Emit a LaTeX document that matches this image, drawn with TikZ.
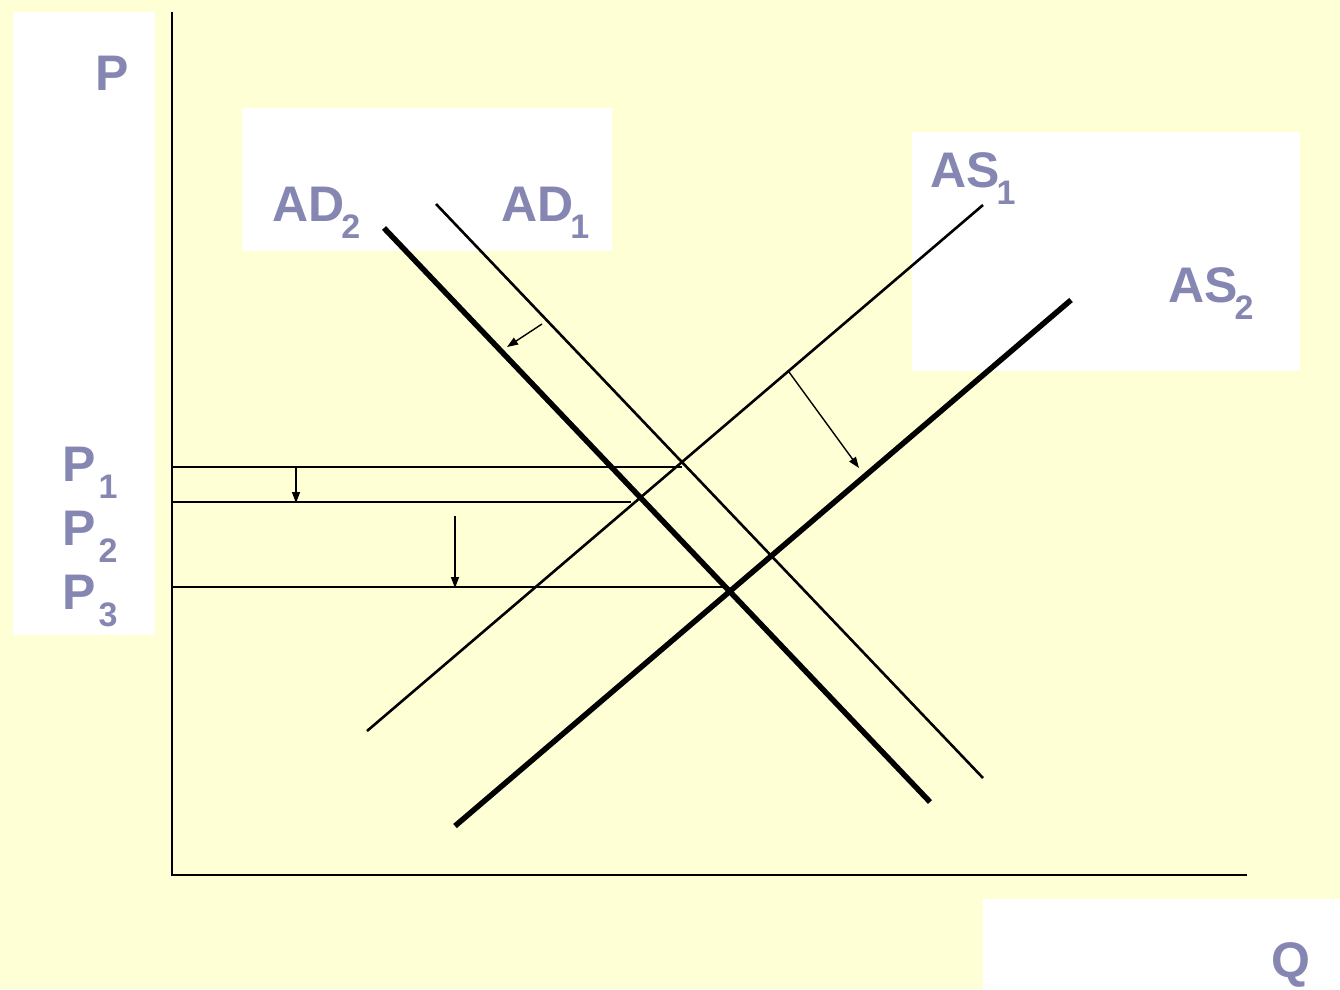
\documentclass[tikz,border=0pt]{standalone}
\usepackage{fontspec}
\setmainfont{Liberation Sans}
\usetikzlibrary{arrows.meta}
\definecolor{bgyel}{RGB}{255,255,213}
\definecolor{lbl}{RGB}{134,134,178}
\newcommand{\biglbl}[3][-3pt]{{\fontsize{50}{60}\selectfont #2}\kern#1\raisebox{-17pt}{\fontsize{34}{40}\selectfont #3}}
\tikzset{
  lab/.style={anchor=base west, inner sep=0pt, text=lbl, font=\bfseries},
  whitebox/.style={fill=white, draw=none},
  axisline/.style={line width=2pt, black},
  thinc/.style={line width=2.6pt, black},
  thickc/.style={line width=5.5pt, black},
  hline/.style={line width=1.8pt, black},
  shiftarrow/.style={line width=1.4pt, black, -{Triangle[length=11pt,width=8pt]}}
}
\begin{document}
\begin{tikzpicture}[x=1pt,y=-1pt]
\useasboundingbox (0,0) rectangle (1340,989);
\fill[bgyel] (0,0) rectangle (1340,989);
% white label boxes
\fill[whitebox] (13,12) rectangle (155,635);
\fill[whitebox] (242,108) rectangle (612,251);
\fill[whitebox] (912,132) rectangle (1300,371);
\fill[whitebox] (983,899) rectangle (1340,989);
% axes
\coordinate (ytop) at (172,12);
\coordinate (orig) at (172,875);
\coordinate (xend) at (1247,875);
\draw[axisline] (ytop) -- (orig) -- (xend);
% curves
\coordinate (ad1a) at (436,204); \coordinate (ad1b) at (983,778);
\coordinate (ad2a) at (384,228); \coordinate (ad2b) at (930,802);
\coordinate (as1a) at (367,731); \coordinate (as1b) at (983,205);
\coordinate (as2a) at (455,826); \coordinate (as2b) at (1071,300);
\draw[thinc] (ad1a) -- (ad1b);
\draw[thickc] (ad2a) -- (ad2b);
\draw[thinc] (as1a) -- (as1b);
\draw[thickc] (as2a) -- (as2b);
% price lines
\coordinate (p1a) at (172,467); \coordinate (p1b) at (682,467);
\coordinate (p2a) at (172,502); \coordinate (p2b) at (631,502);
\coordinate (p3a) at (172,587); \coordinate (p3b) at (724,587);
\draw[hline] (p1a) -- (p1b);
\draw[hline] (p2a) -- (p2b);
\draw[hline] (p3a) -- (p3b);
% shift arrows
\coordinate (a1s) at (296,467); \coordinate (a1e) at (296,503);
\coordinate (a2s) at (455,516); \coordinate (a2e) at (455,588);
\coordinate (a3s) at (542,324); \coordinate (a3e) at (507,347);
\coordinate (a4s) at (789,372); \coordinate (a4e) at (859,468);
\draw[shiftarrow] (a1s) -- (a1e);
\draw[shiftarrow] (a2s) -- (a2e);
\draw[shiftarrow] (a3s) -- (a3e);
\draw[shiftarrow] (a4s) -- (a4e);
% labels
\node[lab] (lP) at (95,90) {\fontsize{50}{60}\selectfont P};
\node[lab] (lAD2) at (272,221) {\biglbl{AD}{2}};
\node[lab] (lAD1) at (501,221) {\biglbl{AD}{1}};
\node[lab] (lAS1) at (930,187) {\biglbl{AS}{1}};
\node[lab] (lAS2) at (1168,302) {\biglbl{AS}{2}};
\node[lab] (lP1) at (62,481) {\biglbl[3pt]{P}{1}};
\node[lab] (lP2) at (62,545) {\biglbl[3pt]{P}{2}};
\node[lab] (lP3) at (62,609) {\biglbl[3pt]{P}{3}};
\node[lab] (lQ) at (1271,977) {\fontsize{50}{60}\selectfont Q};
\end{tikzpicture}
\end{document}
